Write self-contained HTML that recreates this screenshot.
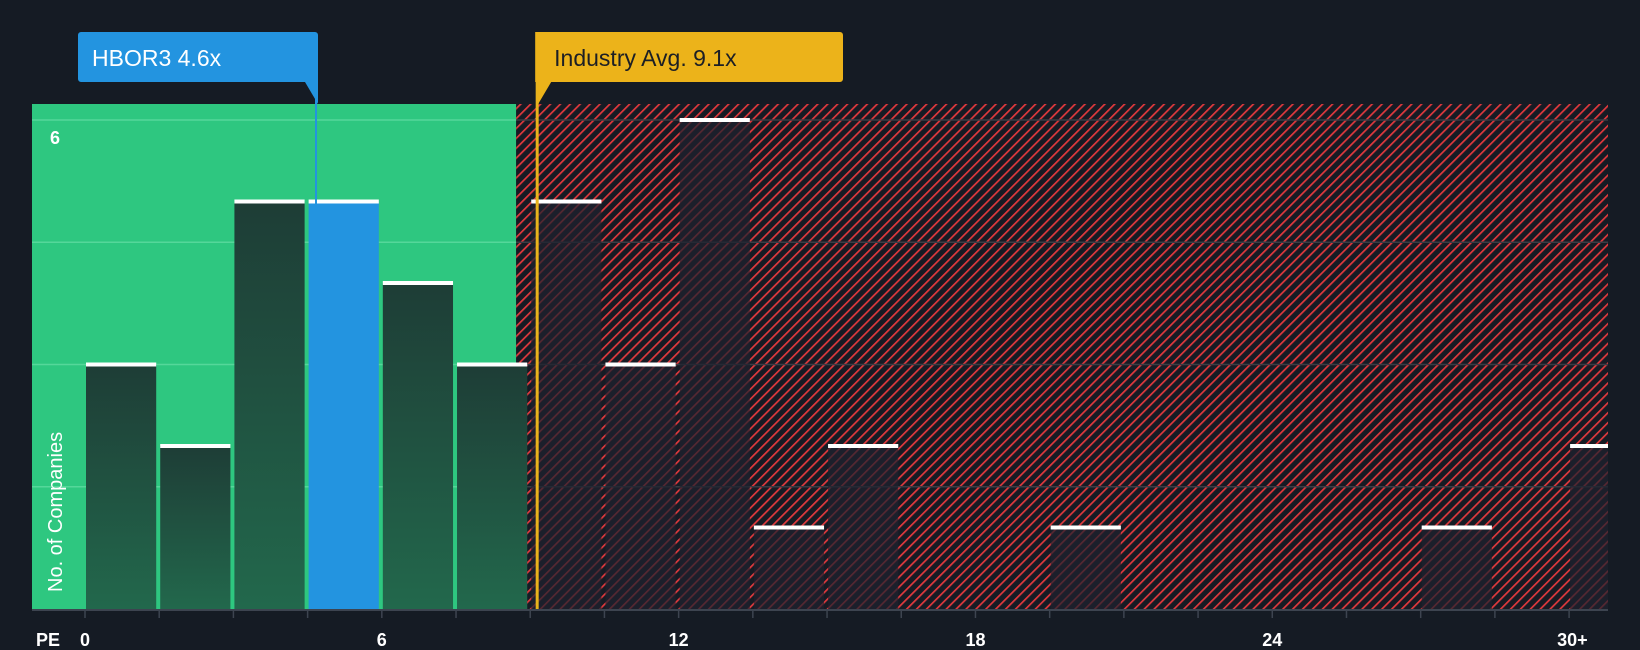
<!DOCTYPE html>
<html><head><meta charset="utf-8"><style>
html,body{margin:0;padding:0;background:#151b24;}
svg{display:block;font-family:"Liberation Sans",sans-serif;}
</style></head><body>
<svg width="1640" height="650" viewBox="0 0 1640 650">
<defs>
<pattern id="hatch" patternUnits="userSpaceOnUse" width="7" height="7" patternTransform="rotate(45)">
<rect width="7" height="7" fill="#161b24"/>
<rect x="0" y="0" width="1.7" height="7" fill="#e0393d"/>
</pattern>
<linearGradient id="gbar" x1="0" y1="0" x2="0" y2="1">
<stop offset="0" stop-color="#1e3d36"/><stop offset="1" stop-color="#22684c"/>
</linearGradient>
</defs>
<g id="plot"></g>
</svg>
<script>
const binLabels=["0","1.5","3","4.5","6","7.5","9","10.5","12","13.5","15","16.5","18","19.5","21","22.5","24","25.5","27","28.5","30+"];
const counts=[3,2,5,5,4,3,5,3,6,1,2,0,0,1,0,0,0,0,1,0,2];
const tickValues=[0,6,12,18,24,30];
const tickLabels=["0","6","12","18","24","30+"];
const gridValues=[1.5,3,4.5,6];
const companyPE=4.6;
const industryPE=9.1;
const companyName="HBOR3";

const NS="http://www.w3.org/2000/svg";
const g=document.getElementById('plot');
const L=32,R=1608,T=104,B=609,X0=85,PXU=49.47,PXY=81.5,BW=1.5;
const xs=v=>X0+v*PXU, ys=v=>B-v*PXY;
const greenEnd=xs(industryPE)-19;
function el(t,a,p){const e=document.createElementNS(NS,t);for(const k in a)e.setAttribute(k,a[k]);(p||g).appendChild(e);return e;}

const bgG=el('rect',{x:L,y:T,width:greenEnd-L,height:B-T,fill:'#2ec780'});


const bgR=el('rect',{x:greenEnd,y:T,width:R-greenEnd,height:B-T,fill:'url(#hatch)'});



gridValues.forEach(v=>{
 const a=el('line',{x1:L,x2:greenEnd,y1:ys(v),y2:ys(v),stroke:'#55d79a','stroke-width':1.5});
 
 
 const b=el('line',{x1:greenEnd,x2:R,y1:ys(v),y2:ys(v),stroke:'#3a3d45','stroke-width':1.5});
 
 
});

counts.forEach((c,i)=>{
 const x1=xs(i*BW)+1, x2=Math.min(xs((i+1)*BW)-3,R);
 if(c<=0)return;
 const hi=(companyPE>=i*BW&&companyPE<(i+1)*BW);
 const inGreen=x1<greenEnd;
 const fill=hi?'#2394e0':(inGreen?'url(#gbar)':'rgba(30,33,46,0.72)');
 const r=el('rect',{x:x1,y:ys(c),width:x2-x1,height:B-ys(c),fill:fill});
 
 
 const cap=el('rect',{x:x1,y:ys(c)-2,width:x2-x1,height:4,fill:'#ffffff'});
 
 
});

const ax=el('line',{x1:L,x2:R,y1:B+1,y2:B+1,stroke:'#3d4450','stroke-width':2});


for(let i=0;i<=20;i++){
 const t=el('line',{x1:xs(i*BW),x2:xs(i*BW),y1:B,y2:B+9,stroke:'#3d4450','stroke-width':1.5});
 
 
}
tickValues.forEach((v,i)=>{
 const t=el('text',{x:xs(v),y:646,fill:'#ffffff','font-size':18,'font-weight':'bold','text-anchor':i==tickLabels.length-1?'start':(i==0?'start':'middle')});
 if(i==tickLabels.length-1)t.setAttribute('x',xs(v)-12);
 if(i==0)t.setAttribute('x',xs(v)-5);
 t.textContent=tickLabels[i];
 
 
});
const pe=el('text',{x:36,y:646,fill:'#ffffff','font-size':18,'font-weight':'bold'});pe.textContent='PE';


const y6=el('text',{x:50,y:144,fill:'#ffffff','font-size':18,'font-weight':'bold'});y6.textContent='6';


const yt=el('text',{x:0,y:0,fill:'#ffffff','font-size':20,transform:'translate(62,592) rotate(-90)'});yt.textContent='No. of Companies';



const ix=xs(industryPE)+2;
const il=el('line',{x1:ix,x2:ix,y1:68,y2:B,stroke:'#e9b31c','stroke-width':3});


const ib=el('path',{d:`M${ix-2} 32 H840 a3 3 0 0 1 3 3 V79 a3 3 0 0 1 -3 3 H${ix+14} L${ix+1} 104 V82 H${ix-2} Z`,fill:'#ecb31a'});


const it=el('text',{x:ix+17,y:66,fill:'#1c1f25','font-size':23});it.textContent='Industry Avg. '+industryPE+'x';



const cx=316;
const cl=el('line',{x1:cx,x2:cx,y1:68,y2:B,stroke:'#2394e0','stroke-width':2});


const cb=el('path',{d:`M81 32 H315 a3 3 0 0 1 3 3 V104 L305 82 H81 a3 3 0 0 1 -3 -3 V35 a3 3 0 0 1 3 -3 Z`,fill:'#2394e0'});


const ct=el('text',{x:92,y:66,fill:'#ffffff','font-size':23});ct.textContent=companyName+' '+companyPE+'x';


</script>
</body></html>
